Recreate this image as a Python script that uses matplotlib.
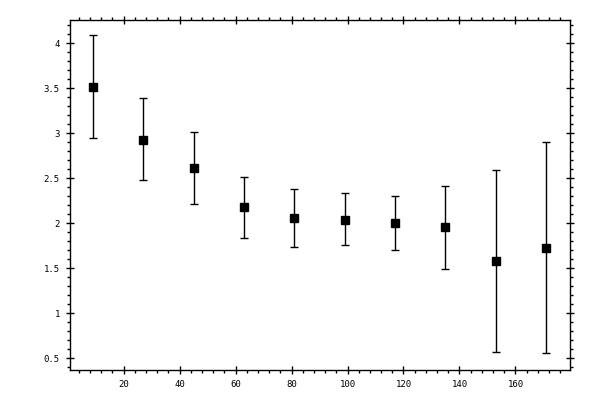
import matplotlib
matplotlib.use('Agg')
import matplotlib.pyplot as plt
from matplotlib.ticker import MultipleLocator, FuncFormatter

# bin centres and measured means with their error bar extents
x_vals = [9, 27, 45, 63, 81, 99, 117, 135, 153, 171]
y_vals = [3.51, 2.93, 2.62, 2.18, 2.06, 2.04, 2.00, 1.96, 1.58, 1.73]
y_upper = [4.09, 3.39, 3.02, 2.51, 2.38, 2.34, 2.30, 2.42, 2.59, 2.90]
y_lower = [2.95, 2.48, 2.21, 1.84, 1.74, 1.76, 1.71, 1.49, 0.57, 0.56]

err_low = [y - lo for y, lo in zip(y_vals, y_lower)]
err_high = [hi - y for y, hi in zip(y_vals, y_upper)]

fig = plt.figure(figsize=(6, 4), dpi=100)
ax = fig.add_axes([0.116, 0.074, 0.834, 0.877])

ax.errorbar(x_vals, y_vals, yerr=[err_low, err_high], fmt='s', color='black',
            markersize=5.5, elinewidth=1.0, capsize=3, capthick=1.0)

ax.set_xlim(0.7, 179.5)
ax.set_ylim(0.367, 4.264)

ax.xaxis.set_major_locator(MultipleLocator(20))
ax.xaxis.set_minor_locator(MultipleLocator(4))
ax.yaxis.set_major_locator(MultipleLocator(0.5))
ax.yaxis.set_minor_locator(MultipleLocator(0.1))
ax.yaxis.set_major_formatter(FuncFormatter(lambda v, p: f'{v:g}'))

for side in ax.spines.values():
    side.set_linewidth(1.0)

ax.tick_params(which='major', direction='inout', length=6, width=1.0,
               top=True, right=True, labelsize=6.5, pad=4)
ax.tick_params(which='minor', direction='out', length=2.5, width=1.0,
               top=True, right=True)
for lbl in ax.get_xticklabels() + ax.get_yticklabels():
    lbl.set_family('DejaVu Sans Mono')

fig.savefig('out.png', dpi=100)
